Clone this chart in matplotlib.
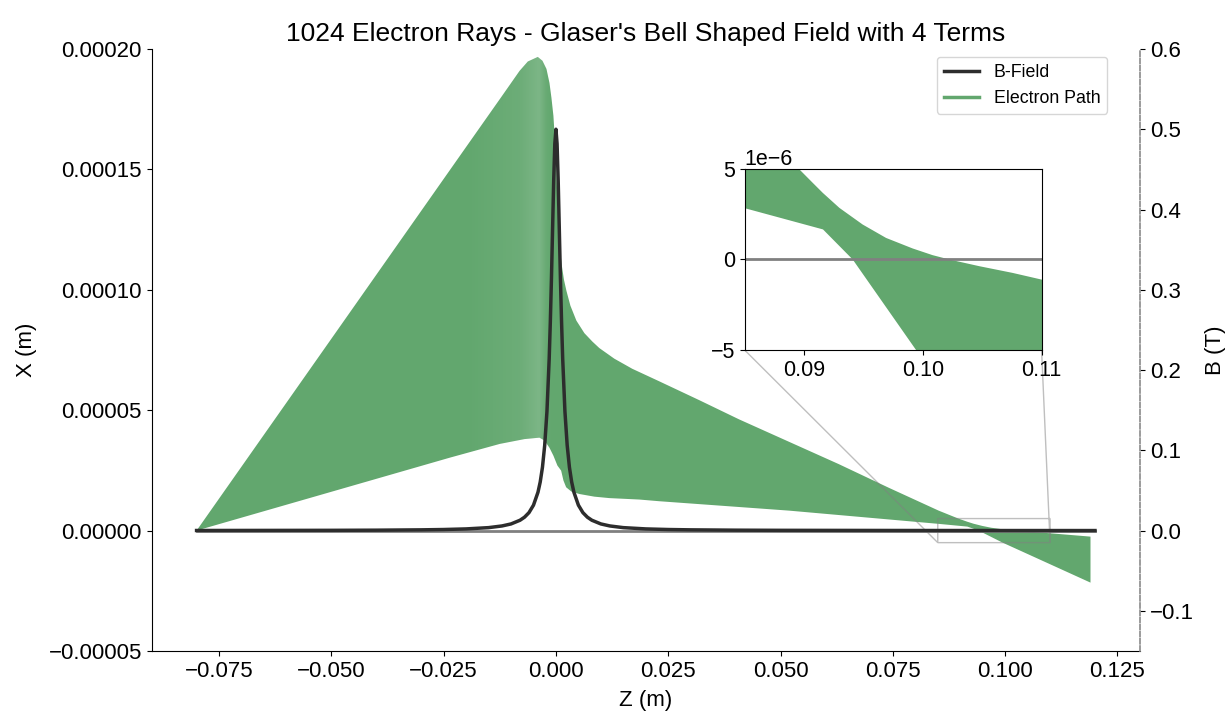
import numpy as np
import matplotlib
matplotlib.use("Agg")
import matplotlib.pyplot as plt
from matplotlib.lines import Line2D

plt.rcParams['font.family'] = ['Liberation Sans', 'DejaVu Sans']

# --------------------------
# data
# --------------------------
# outer edge of the ray bundle (z in m, x in m)
z_upper = [-0.080, -0.020, -0.012, -0.0081, -0.00626, -0.00404, -0.0030, -0.00211,
           -0.00144, -0.0010, -0.00056, -0.00022, 0.00011, 0.00044, 0.00078, 0.00122,
           0.00178, 0.00233, 0.00322, 0.00455, 0.00633, 0.00811, 0.00966, 0.01299,
           0.01699, 0.02299, 0.03187, 0.04076, 0.05186, 0.06297, 0.07408, 0.08519,
           0.08962, 0.09074, 0.09158, 0.09298, 0.09494, 0.09691, 0.09914, 0.10082,
           0.10223, 0.10475, 0.10755, 0.10993, 0.1190]
x_upper = [0.0, 1.593e-4, 1.805e-4, 1.909e-4, 1.948e-4, 1.967e-4, 1.951e-4, 1.917e-4,
           1.859e-4, 1.797e-4, 1.722e-4, 1.619e-4, 1.482e-4, 1.328e-4, 1.204e-4, 1.112e-4,
           1.042e-4, 9.96e-5, 9.34e-5, 8.72e-5, 8.20e-5, 7.85e-5, 7.58e-5, 7.14e-5,
           6.72e-5, 6.20e-5, 5.42e-5, 4.62e-5, 3.69e-5, 2.76e-5, 1.78e-5, 8.3e-6,
           4.97e-6, 4.23e-6, 3.68e-6, 2.85e-6, 1.93e-6, 1.19e-6, 0.61e-6, 0.24e-6,
           0.0, -0.37e-6, -0.74e-6, -1.10e-6, -2.5e-6]

# inner edge of the ray bundle
z_lower = [-0.080, -0.0236, -0.0125, -0.007, -0.00367, -0.00255, -0.00144, -0.00056,
           0.00033, 0.00116, 0.00167, 0.00227, 0.00344, 0.00522, 0.00855, 0.01188,
           0.01855, 0.02299, 0.05186, 0.0852, 0.0916, 0.0941, 0.0994, 0.1190]
x_lower = [0.0, 3.03e-5, 3.6e-5, 3.8e-5, 3.86e-5, 3.74e-5, 3.44e-5, 3.11e-5,
           2.70e-5, 2.49e-5, 2.08e-5, 1.80e-5, 1.62e-5, 1.52e-5, 1.41e-5, 1.35e-5,
           1.29e-5, 1.22e-5, 8.3e-6, 2.8e-6, 1.66e-6, 0.0, -4.97e-6, -2.16e-5]

# B-field on axis (T)
z_field = [-0.08, -0.05, -0.04, -0.03, -0.025, -0.02, -0.015, -0.012, -0.010, -0.008,
           -0.007, -0.006, -0.005, -0.004, -0.0035, -0.003, -0.0025, -0.002, -0.0015,
           -0.00125, -0.001, -0.00075, -0.0005, -0.00025, 0.0, 0.00025, 0.0005,
           0.00075, 0.001, 0.00125, 0.0015, 0.002, 0.0025, 0.003, 0.0035, 0.004,
           0.005, 0.006, 0.007, 0.008, 0.010, 0.012, 0.015, 0.02, 0.025, 0.03, 0.04,
           0.05, 0.08, 0.10, 0.12]
b_field = [0.00013, 0.00034, 0.00053, 0.00094, 0.00135, 0.0021, 0.0037, 0.0058, 0.0083,
           0.0129, 0.0167, 0.0224, 0.0317, 0.0478, 0.0606, 0.079, 0.1064, 0.1485, 0.2145,
           0.260, 0.314, 0.375, 0.436, 0.482, 0.5, 0.482, 0.436,
           0.375, 0.314, 0.260, 0.2145, 0.1485, 0.1064, 0.079, 0.0606, 0.0478,
           0.0317, 0.0224, 0.0167, 0.0129, 0.0083, 0.0058, 0.0037, 0.0021, 0.00135, 0.00094, 0.00053,
           0.00034, 0.00013, 0.00008, 0.00006]

z_axis = [-0.08, 0.12]

green = '#62a76e'
dark = '#2d2d2d'

band_z = np.concatenate([z_upper, z_lower[::-1]])
band_x = np.concatenate([x_upper, x_lower[::-1]])

# --------------------------
# main plot
# --------------------------
fig = plt.figure(figsize=(12.31, 7.15), dpi=100)
ax = fig.add_axes([0.1232, 0.0895, 0.8028, 0.842])

band = ax.fill(band_z, band_x, color=green, lw=0)[0]

# lighter sheen where the rays bunch up before the lens
prof_z = np.linspace(-0.02, -0.001, 300)
prof_a = np.interp(prof_z, [-0.02, -0.008, -0.0038, -0.0022, -0.001],
                   [0.0, 0.07, 0.17, 0.04, 0.0])
sheen = np.ones((2, len(prof_z), 4))
sheen[..., 3] = prof_a
ax.imshow(sheen, extent=[-0.02, -0.001, 0, 2e-4], aspect='auto',
          origin='lower', interpolation='bilinear', clip_path=band, zorder=1.5)

ax.plot(z_axis, [0, 0], color='gray', lw=2)

ax.set_xlim(-0.09, 0.13)
ax.set_ylim(-0.00005, 0.0002)
ax.set_xlabel("Z (m)", fontsize=16, labelpad=6)
ax.set_ylabel("X (m)", fontsize=16, labelpad=8)
ax.tick_params(labelsize=16)
ax.spines['top'].set_visible(False)
ax.spines['right'].set_visible(False)
ax.set_title("1024 Electron Rays - Glaser's Bell Shaped Field with 4 Terms", fontsize=19)

ax2 = ax.twinx()
ax2.plot(z_field, b_field, color=dark, lw=2.5)
ax2.set_ylim(-0.15, 0.6)
ax2.set_ylabel("B (T)", fontsize=16, labelpad=8)
ax2.tick_params(labelsize=16)
ax2.spines['top'].set_visible(False)
ax2.spines['left'].set_visible(False)
ax2.spines['bottom'].set_visible(False)
ax2.spines['right'].set_linestyle((0, (3, 1.3)))
ax2.spines['right'].set_linewidth(1.2)
ax2.spines['right'].set_color('#8a8a8a')

handles = [Line2D([], [], color=dark, lw=2.5), Line2D([], [], color=green, lw=2.5)]
ax2.legend(handles, ["B-Field", "Electron Path"], loc='upper right',
           bbox_to_anchor=(0.967, 0.987), borderaxespad=0, fontsize=12.8)

# --------------------------
# inset around the focus
# --------------------------
axins = ax.inset_axes([0.6, 0.5, 0.3005, 0.3007])
axins.fill(band_z, band_x, color=green, lw=0)
axins.plot(z_axis, [0, 0], color='gray', lw=2)
axins.set_xlim(0.085, 0.11)
axins.set_ylim(-5e-6, 5e-6)
axins.set_xticks([0.09, 0.10, 0.11])
axins.set_yticks([-5e-6, 0, 5e-6])
axins.tick_params(labelsize=15.5)
axins.yaxis.get_offset_text().set_fontsize(15.5)
ax.indicate_inset_zoom(axins, edgecolor='gray')

fig.savefig("out.png", dpi=100)
